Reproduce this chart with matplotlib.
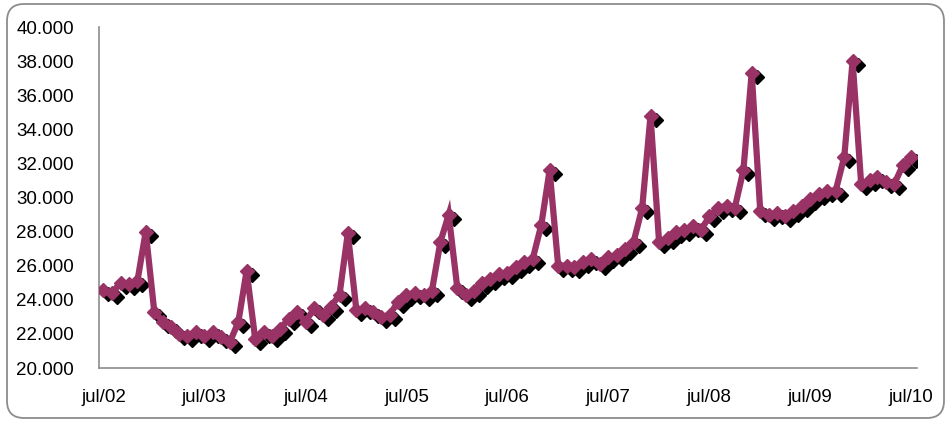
import matplotlib
matplotlib.use("Agg")
import matplotlib.pyplot as plt
import matplotlib.transforms as mtransforms
from matplotlib.patches import FancyBboxPatch
import pandas as pd
import numpy as np

plt.rcParams['font.family'] = ['Liberation Sans', 'DejaVu Sans']

# Monthly values, jul/2002 .. jul/2010
start_month = "2002-07-01"
values = [
    24600, 24400, 25000, 24900, 25100, 28000, 23300, 22700, 22400, 22000, 21900, 22100,  # jul02-jun03
    21900, 22100, 21800, 21500, 22700, 25700, 21700, 22100, 21900, 22300, 22900, 23300,  # jul03-jun04
    22700, 23500, 23100, 23600, 24300, 27900, 23400, 23500, 23300, 23000, 23100, 23900,  # jul04-jun05
    24300, 24400, 24300, 24500, 27400, 29000, 24700, 24300, 24500, 25000, 25200, 25500,  # jul05-jun06
    25600, 25900, 26200, 26400, 28400, 31600, 26000, 26000, 25900, 26200, 26400, 26100,  # jul06-jun07
    26500, 26600, 27000, 27400, 29400, 34800, 27400, 27600, 28000, 28100, 28300, 28100,  # jul07-jun08
    28900, 29400, 29500, 29400, 31600, 37300, 29200, 29000, 29100, 28900, 29200, 29500,  # jul08-jun09
    29900, 30200, 30400, 30400, 32400, 38000, 30800, 31000, 31200, 30900, 30800, 31900,  # jul09-jun10
    32400,                                                                              # jul10
]
dates = pd.date_range(start_month, periods=len(values), freq="MS")

tick_dates = pd.date_range("2002-07-01", "2010-07-01", freq="12MS")
tick_labels = ["jul/02", "jul/03", "jul/04", "jul/05", "jul/06", "jul/07", "jul/08", "jul/09", "jul/10"]
y_ticks = [20000, 22000, 24000, 26000, 28000, 30000, 32000, 34000, 36000, 38000, 40000]
y_tick_labels = ["20.000", "22.000", "24.000", "26.000", "28.000", "30.000",
                 "32.000", "34.000", "36.000", "38.000", "40.000"]

color = "#993366"

fig = plt.figure(figsize=(9.5, 4.23), dpi=100)
# rounded outer frame
frame = FancyBboxPatch((7/950, 5/423), (944-7)/950, (419-5)/423,
                       boxstyle="round,pad=0,rounding_size=0.018",
                       transform=fig.transFigure, facecolor="none",
                       edgecolor="#8c8c8c", linewidth=1.3, zorder=0,
                       mutation_aspect=950/423)
fig.patches.append(frame)

ax = fig.add_axes([99/950, (423-368)/423, (917-99)/950, (368-27)/423])
ax.set_facecolor("none")

shadow = mtransforms.offset_copy(ax.transData, fig=fig, x=5, y=-4, units="dots")
ax.plot(dates, values, linestyle="none", marker="D", markersize=7,
        color="black", markeredgewidth=1, transform=shadow, zorder=2)
ax.plot(dates, values, color=color, linewidth=4.5, marker="D", markersize=7,
        markeredgewidth=1, markeredgecolor=color, markerfacecolor=color, zorder=3,
        solid_joinstyle="miter")

ax.set_ylim(20000, 40000)
ax.set_xlim(dates[0] - pd.Timedelta(days=16), dates[-1] + pd.Timedelta(days=21))
ax.set_yticks(y_ticks)
ax.set_yticklabels(y_tick_labels)
ax.set_xticks(tick_dates)
ax.set_xticklabels(tick_labels)

for s in ["top", "right"]:
    ax.spines[s].set_visible(False)
for s in ["left", "bottom"]:
    ax.spines[s].set_color("#8c8c8c")
    ax.spines[s].set_linewidth(1.2)
ax.tick_params(axis="y", length=0, pad=18, labelsize=13.5, labelcolor="black")
ax.tick_params(axis="x", length=0, pad=15, labelsize=13.5, labelcolor="black")

fig.savefig("out.png", dpi=100)
